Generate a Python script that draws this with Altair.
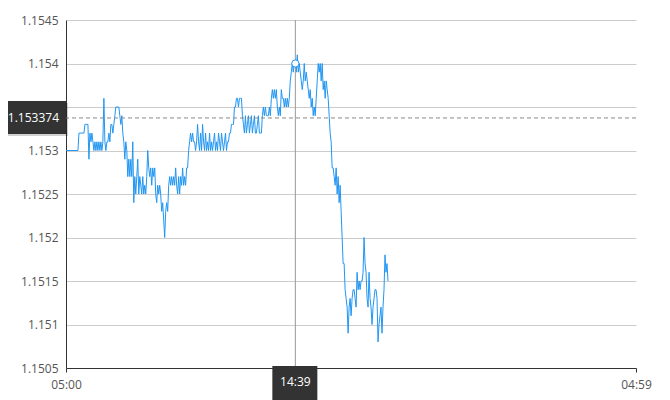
import altair as alt
import pandas as pd

# ---- data -------------------------------------------------------------
BASE_MS = 1609477200000            # 05:00 (UTC) start of session
SESSION_MIN = 1439                 # 05:00 -> 04:59 next day
STEP_S = 151                       # sampling step of the series (seconds)

# price offsets in pips above 1.1500 (1 pip = 0.0001)
price_pips = [
    30, 30, 30, 30, 30, 30, 30, 30, 30, 30,
    30, 30, 30, 32, 32, 32, 32, 32, 32, 33,
    33, 33, 33, 29, 32, 31, 32, 31, 30, 31,
    30, 31, 30, 31, 30, 31, 30, 31, 36, 31,
    30, 31, 31, 32, 31, 33, 33, 32, 33, 34,
    35, 35, 35, 35, 34, 33, 34, 32, 31, 29,
    31, 30, 27, 29, 27, 29, 27, 31, 24, 27,
    25, 27, 29, 25, 27, 26, 25, 27, 25, 26,
    25, 27, 30, 28, 27, 28, 26, 28, 27, 28,
    25, 24, 26, 25, 26, 25, 23, 24, 22, 20,
    23, 24, 23, 26, 27, 26, 27, 26, 27, 26,
    28, 26, 25, 27, 25, 27, 26, 28, 26, 27,
    26, 28, 28, 30, 31, 32, 31, 32, 31, 31,
    30, 31, 33, 31, 30, 32, 30, 33, 31, 30,
    32, 30, 31, 30, 32, 30, 31, 30, 31, 32,
    30, 31, 30, 32, 31, 30, 32, 31, 30, 31,
    32, 30, 31, 31, 32, 32, 33, 33, 33, 35,
    35, 36, 36, 35, 36, 36, 36, 34, 33, 32,
    34, 32, 33, 34, 32, 33, 34, 32, 33, 34,
    32, 32, 33, 34, 32, 32, 32, 34, 35, 34,
    35, 34, 34, 34, 35, 34, 36, 37, 36, 37,
    36, 37, 35, 34, 35, 34, 37, 36, 36, 35,
    36, 35, 36, 35, 36, 38, 39, 40, 39, 40,
    40, 39, 41, 39, 40, 39, 38, 37, 38, 40,
    38, 39, 38, 37, 36, 37, 35, 36, 34, 35,
    34, 36, 38, 40, 39, 40, 38, 40, 37, 38,
    36, 38, 37, 36, 34, 32, 31, 28, 28, 27,
    26, 28, 25, 27, 24, 26, 23, 20, 17, 17,
    14, 13, 12, 9, 12, 13, 11, 13, 14, 14,
    13, 12, 16, 14, 15, 14, 15, 15, 16, 20,
    17, 16, 13, 12, 16, 13, 12, 10, 12, 13,
    14, 14, 13, 8, 10, 11, 12, 9, 12, 14,
    18, 16, 17, 15,
]

y_ticks = [1.1505, 1.151, 1.1515, 1.152, 1.1525, 1.153, 1.1535, 1.154, 1.1545]
hidden_y_label = 1.1535            # covered by the crosshair price box

cross_minute = 579                 # 14:39
cross_time_label = "14:39"
cross_price = 1.153374
cross_price_label = "1.153374"
marker_price = 1.1540

# ---- tables -----------------------------------------------------------
END_MS = BASE_MS + SESSION_MIN * 60000
series = pd.DataFrame({
    "t": [BASE_MS + i * STEP_S * 1000 for i in range(len(price_pips))],
    "price": [round(1.15 + p / 10000, 5) for p in price_pips],
})
cross = pd.DataFrame({
    "t": [BASE_MS + cross_minute * 60000],
    "price": [cross_price],
    "mprice": [marker_price],
    "tlabel": [cross_time_label],
    "plabel": [cross_price_label],
})

FONT = "Open Sans"
LINE_BLUE = "#2196f3"

x_scale = alt.Scale(type="utc", domain=[BASE_MS, END_MS])
y_scale = alt.Scale(domain=[1.1505, 1.1545], zero=False, nice=False)

x_axis = alt.Axis(values=[BASE_MS, END_MS],
                  labelExpr="utcFormat(datum.value, '%H:%M')",
                  title=None, grid=False, labelFlush=False, tickSize=4,
                  labelPadding=7, domainColor="#333", tickColor="#333",
                  labelColor="#555", labelFont=FONT, labelFontSize=12)
y_axis = alt.Axis(values=y_ticks,
                  labelExpr=f"abs(datum.value - {hidden_y_label}) < 1e-9 ? '' : format(datum.value, '.5~f')",
                  title=None, grid=True,
                  gridColor="#cccccc", ticks=False, labelPadding=8,
                  domainColor="#333", labelColor="#555", labelFont=FONT,
                  labelFontSize=12)


def xe():
    return alt.X("t:T", scale=x_scale, axis=x_axis)


def ye(field="price"):
    return alt.Y(f"{field}:Q", scale=y_scale, axis=y_axis)


line = alt.Chart(series).mark_line(color=LINE_BLUE, strokeWidth=1).encode(
    x=xe(), y=ye())

hrule = alt.Chart(cross).mark_rule(color="#888", strokeWidth=1,
                                   strokeDash=[4, 3]).encode(y=ye())
vrule = alt.Chart(cross).mark_rule(color="#999", strokeWidth=1).encode(x=xe())

marker = alt.Chart(cross).mark_point(shape="circle", filled=False, fill="white",
                                     fillOpacity=1, stroke=LINE_BLUE, strokeWidth=1,
                                     size=52, opacity=1).encode(
    x=xe(), y=ye("mprice"))

yshadow = alt.Chart(cross).mark_rect(color="#000", opacity=0.18,
                                     yOffset=-15, y2Offset=18).encode(
    x=alt.value(-66), x2=alt.value(2), y=ye(), y2="price")
ybox = alt.Chart(cross).mark_rect(color="#333333", yOffset=-17, y2Offset=16).encode(
    x=alt.value(-66), x2=alt.value(0), y=ye(), y2="price")
ytext = alt.Chart(cross).mark_text(align="right", baseline="middle", color="white",
                                   font=FONT, fontSize=12).encode(
    x=alt.value(-7), y=ye(), text="plabel:N")

tbox = alt.Chart(cross).mark_rect(color="#333333", xOffset=-23, x2Offset=22).encode(
    x=xe(), x2="t", y=alt.value(346), y2=alt.value(400))
ttext = alt.Chart(cross).mark_text(align="center", baseline="middle", color="white",
                                   font=FONT, fontSize=12).encode(
    x=xe(), y=alt.value(362), text="tlabel:N")

chart = alt.layer(line, hrule, vrule, marker, yshadow, ybox, ytext, tbox, ttext).properties(
    width=570, height=348,
    autosize=alt.AutoSizeParams(type="none"),
    padding={"left": 58, "top": 12, "right": 26, "bottom": 32},
).configure(font=FONT, background="white").configure_view(stroke=None)

chart.save("out.html", embed_options={"renderer": "svg", "actions": False})
